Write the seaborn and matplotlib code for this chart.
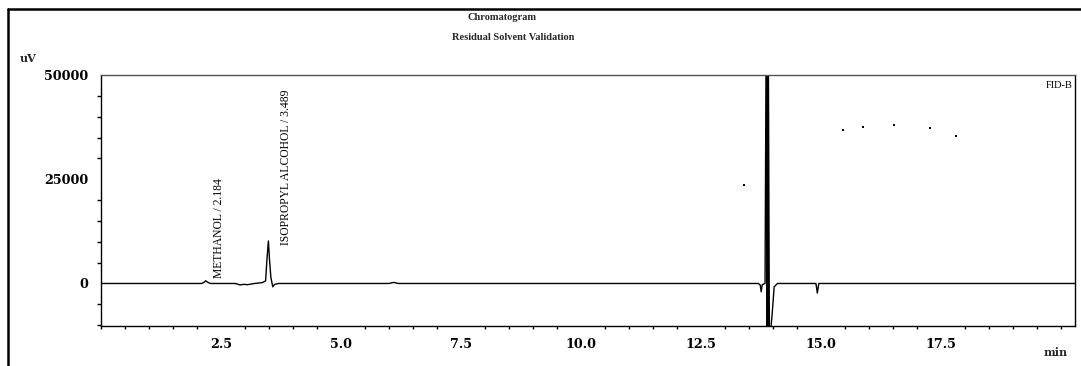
import matplotlib
matplotlib.use("Agg")
import matplotlib.pyplot as plt
from matplotlib.lines import Line2D
from matplotlib.ticker import MultipleLocator, FixedLocator
import seaborn as sns
import pandas as pd

# ---- data ----
time_min = [0.0, 1.0, 2.10, 2.15, 2.184, 2.22, 2.28, 2.80, 2.90, 2.98, 3.05, 3.20,
            3.36, 3.43, 3.46, 3.489, 3.51, 3.54, 3.58, 3.62, 3.70, 6.0, 6.1, 6.2,
            13.70, 13.74, 13.76, 13.78, 13.84, 13.86, 13.87, 13.90, 13.91, 13.93,
            13.96, 13.99, 14.03, 14.10, 14.90, 14.93, 14.96, 19.5, 20.3]
signal_uv = [0, 0, 0, 300, 650, 300, 0, 0, -350, -200, -300, 0,
             200, 600, 6000, 10200, 6000, 1500, -800, -200, 0, 0, 250, 0,
             0, -400, -2000, -300, 0, 52000, 52000, 52000, 52000, -11000,
             -11000, -7000, -800, 0, 0, -2300, 0, 0, 0]

# solvent front: saturated peak drawn as a solid bar
solvent_t = [13.862, 13.928]
solvent_low = -10600
solvent_high = 52000

peak_names = ["METHANOL / 2.184", "ISOPROPYL ALCOHOL / 3.489"]
peak_label_x = [2.46, 3.85]
peak_label_y = [1400, 9200]

speck_x = [13.40, 15.46, 15.88, 16.52, 17.27, 17.81]
speck_y = [23500, 36900, 37600, 37900, 37400, 35400]

y_ticks = [0, 25000, 50000]
y_tick_labels = ["0", "25000", "50000"]
x_ticks = [2.5, 5.0, 7.5, 10.0, 12.5, 15.0, 17.5]
x_tick_labels = ["2.5", "5.0", "7.5", "10.0", "12.5", "15.0", "17.5"]

sns.set_theme(style="white")
plt.rcParams["font.family"] = ["DejaVu Serif", "Liberation Serif"]

fig = plt.figure(figsize=(10.81, 3.66), dpi=100)
ax = fig.add_axes([101 / 1081, 1 - 326 / 366, (1075 - 101) / 1081, (326 - 75) / 366])

df = pd.DataFrame({"t": time_min, "v": signal_uv})
sns.lineplot(data=df, x="t", y="v", ax=ax, color="black", linewidth=1.0,
             estimator=None, sort=False)
ax.fill_between(solvent_t, solvent_low, solvent_high, color="black", linewidth=0)
sns.scatterplot(x=speck_x, y=speck_y, ax=ax, color="black", s=2, marker="s",
                linewidth=0)

ax.set_xlim(0, 20.3)
ax.set_ylim(-10200, 50000)
ax.set_xlabel("")
ax.set_ylabel("")

ax.yaxis.set_major_locator(FixedLocator(y_ticks))
ax.set_yticklabels(y_tick_labels)
ax.yaxis.set_minor_locator(MultipleLocator(5000))
ax.xaxis.set_major_locator(FixedLocator(x_ticks))
ax.set_xticklabels(x_tick_labels)
ax.xaxis.set_minor_locator(MultipleLocator(0.5))

ax.tick_params(axis="y", which="major", direction="out", length=8, width=1,
               color="black", labelsize=9.2, pad=1)
ax.tick_params(axis="y", which="minor", direction="out", length=3, width=1,
               color="black", left=True)
ax.tick_params(axis="x", which="major", direction="out", length=4, width=1,
               color="black", labelsize=9.2, pad=5)
ax.tick_params(axis="x", which="minor", direction="out", length=2.5, width=1,
               color="black", bottom=True)
for lab in ax.get_xticklabels() + ax.get_yticklabels():
    lab.set_fontweight("bold")
    lab.set_color("black")

for side in ["left", "bottom", "right", "top"]:
    ax.spines[side].set_visible(True)
    ax.spines[side].set_color("black")
    ax.spines[side].set_linewidth(1.0)
ax.spines["top"].set_color("#555555")

for name, px, py in zip(peak_names, peak_label_x, peak_label_y):
    ax.text(px, py, name, rotation=90, ha="center", va="bottom",
            fontsize=8.4, family=["Liberation Serif"], color="black")

ax.text(0.998, 0.975, "FID-B", transform=ax.transAxes, ha="right", va="top",
        fontsize=7.5, family=["Liberation Serif"], color="black")

fig.text(502 / 1081, 1 - 17 / 366, "Chromatogram", ha="center", va="center",
         fontsize=7.5, fontweight="bold", family=["Liberation Serif"])
fig.text(513 / 1081, 1 - 37 / 366, "Residual Solvent Validation", ha="center",
         va="center", fontsize=7.5, fontweight="bold", family=["Liberation Serif"])
fig.text(20 / 1081, 1 - 58 / 366, "uV", ha="left", va="center", fontsize=8,
         fontweight="bold")
fig.text(1068 / 1081, 1 - 352 / 366, "min", ha="right", va="center", fontsize=8,
         fontweight="bold")

# outer frame of the printout
fig.add_artist(Line2D([8 / 1081, 8 / 1081], [0, 1 - 9 / 366], transform=fig.transFigure,
                      color="black", linewidth=1.8))
fig.add_artist(Line2D([8 / 1081, 1], [1 - 9 / 366, 1 - 9 / 366], transform=fig.transFigure,
                      color="black", linewidth=1.8))

fig.savefig("out.png", dpi=100, facecolor="white")
